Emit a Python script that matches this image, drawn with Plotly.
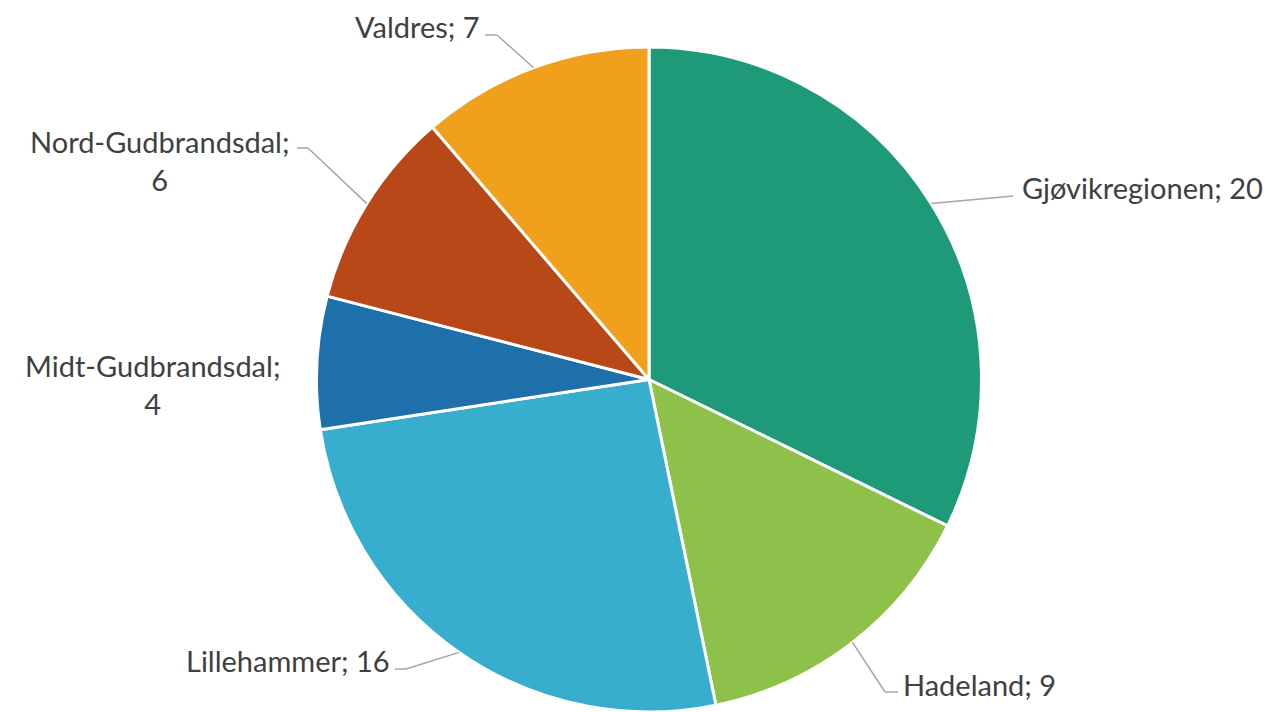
import math
import plotly.graph_objects as go

# ---- data ----
regions = ["Gjøvikregionen", "Hadeland", "Lillehammer", "Midt-Gudbrandsdal", "Nord-Gudbrandsdal", "Valdres"]
counts = [20, 9, 16, 4, 6, 7]
colors = ["#1E9A78", "#8DC14A", "#38AECE", "#1F6FAB", "#B84817", "#F0A01D"]

# ---- layout constants (pixels) ----
W, H = 1274, 712
R = 332.5
CX = 649
CY = H - R

# label layout: elbow points, end point, text anchor, alignment, line break
label_layout = {
    "Gjøvikregionen": dict(path=[(1013, 196)], text=(1021, 188), anchor="left", br=False),
    "Hadeland": dict(path=[(885, 692), (898, 692)], text=(902, 684), anchor="left", br=False),
    "Lillehammer": dict(path=[(406, 669), (395, 669)], text=(391, 660), anchor="right", br=False),
    "Midt-Gudbrandsdal": dict(path=None, text=(152, 384), anchor="center", br=True),
    "Nord-Gudbrandsdal": dict(path=[(308, 148), (297, 148)], text=(160, 160), anchor="center", br=True),
    "Valdres": dict(path=[(497, 35), (485, 35)], text=(481, 26), anchor="right", br=False),
}


def px(x):
    return x / W


def py(y):
    return 1 - y / H


fig = go.Figure()
fig.add_trace(go.Pie(
    labels=regions,
    values=counts,
    sort=False,
    direction="clockwise",
    rotation=0,
    marker=dict(colors=colors, line=dict(color="white", width=3)),
    textinfo="none",
    hoverinfo="label+value",
    showlegend=False,
    domain=dict(x=[px(CX - R), px(CX + R)], y=[max(0, py(CY + R)), py(CY - R)]),
))

total = sum(counts)
cum = 0
shapes = []
annotations = []
for name, v in zip(regions, counts):
    mid = (cum + v / 2) / total * 2 * math.pi
    cum += v
    sx = CX + R * math.sin(mid)
    sy = CY - R * math.cos(mid)
    lay = label_layout[name]
    if lay["path"]:
        pts = [(sx, sy)] + lay["path"]
        for (x0, y0), (x1, y1) in zip(pts[:-1], pts[1:]):
            shapes.append(dict(type="line", xref="paper", yref="paper",
                               x0=px(x0), y0=py(y0), x1=px(x1), y1=py(y1),
                               line=dict(color="#A6A6A6", width=1.5)))
    sep = "<br>" if lay["br"] else " "
    txt = f"{name};{sep}{v}"
    annotations.append(dict(
        text=txt, xref="paper", yref="paper",
        x=px(lay["text"][0]), y=py(lay["text"][1]),
        xanchor=lay["anchor"], yanchor="middle", align="center",
        showarrow=False, borderpad=0,
        font=dict(family="Lato", size=29, color="#404040"),
    ))

fig.update_layout(
    width=W, height=H,
    margin=dict(l=0, r=0, t=0, b=0),
    paper_bgcolor="white",
    plot_bgcolor="white",
    shapes=shapes,
    annotations=annotations,
)

fig.write_html("out.html")
